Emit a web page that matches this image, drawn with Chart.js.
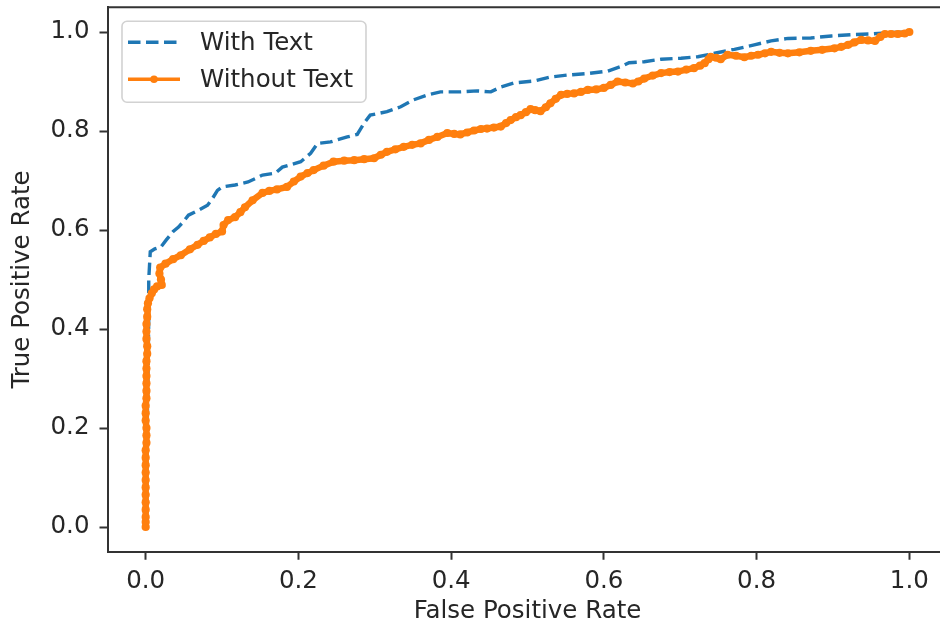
<!DOCTYPE html>
<html>
<head>
<meta charset="utf-8">
<script src="https://cdn.jsdelivr.net/npm/chart.js@4"></script>
<style>
html,body{margin:0;padding:0;background:#fff;overflow:hidden;}
#wrap{width:940px;height:630px;overflow:hidden;position:relative;}
canvas{display:block;}
</style>
</head>
<body>
<div id="wrap"><canvas id="c" width="950" height="630" style="width:950px;height:630px"></canvas></div>
<script>
// ---- Data ----
const seriesNames = ["With Text", "Without Text"];
const xTicks = [0, 0.2, 0.4, 0.6, 0.8, 1.0];
const yTicks = [0, 0.2, 0.4, 0.6, 0.8, 1.0];
const xTitle = "False Positive Rate";
const yTitle = "True Positive Rate";

const withTextFpr = [0,0.002,0.004,0.004,0.006,0.012,0.02,0.027,0.036,0.043,0.05,0.056,0.069,0.081,0.088,0.094,0.1,0.117,0.134,0.153,0.17,0.179,0.19,0.203,0.216,0.225,0.242,0.264,0.277,0.286,0.294,0.316,0.334,0.351,0.369,0.386,0.412,0.434,0.452,0.465,0.482,0.509,0.53,0.552,0.579,0.605,0.622,0.633,0.653,0.675,0.701,0.723,0.745,0.771,0.797,0.819,0.841,0.871,0.898,0.928,0.95,0.976,1];
const withTextTpr = [0,0.2,0.418,0.5,0.556,0.562,0.566,0.58,0.597,0.606,0.618,0.63,0.64,0.65,0.665,0.68,0.687,0.691,0.697,0.711,0.715,0.727,0.732,0.738,0.755,0.775,0.778,0.788,0.793,0.816,0.832,0.839,0.849,0.863,0.873,0.879,0.879,0.881,0.879,0.889,0.897,0.901,0.909,0.913,0.916,0.921,0.93,0.938,0.94,0.945,0.947,0.95,0.957,0.965,0.974,0.982,0.987,0.988,0.992,0.995,0.996,0.999,1];

const withoutTextFpr = [0,0,0,0,0,0,0,0,0,0,0,0,0.001,0.001,0.001,0,0,0,0.001,0.001,0.001,0.001,0.001,0.001,0.002,0.002,0.001,0.001,0.001,0.002,0.002,0.003,0.005,0.008,0.011,0.015,0.021,0.02,0.018,0.019,0.026,0.036,0.046,0.058,0.068,0.076,0.084,0.092,0.1,0.102,0.108,0.117,0.124,0.13,0.14,0.153,0.162,0.172,0.185,0.194,0.203,0.212,0.22,0.233,0.246,0.26,0.273,0.286,0.299,0.308,0.316,0.327,0.338,0.349,0.36,0.371,0.382,0.395,0.404,0.412,0.421,0.43,0.439,0.447,0.456,0.465,0.472,0.478,0.485,0.491,0.498,0.504,0.51,0.517,0.524,0.53,0.537,0.544,0.552,0.561,0.57,0.579,0.59,0.6,0.609,0.618,0.628,0.638,0.645,0.653,0.664,0.675,0.686,0.697,0.708,0.718,0.726,0.732,0.737,0.74,0.747,0.753,0.762,0.773,0.784,0.793,0.802,0.811,0.819,0.83,0.841,0.856,0.871,0.886,0.902,0.911,0.92,0.928,0.937,0.946,0.955,0.962,0.968,0.976,0.985,0.994,1.0];
const withoutTextTpr = [0,0.01,0.02,0.035,0.05,0.065,0.08,0.095,0.11,0.125,0.14,0.155,0.17,0.185,0.2,0.215,0.23,0.245,0.26,0.275,0.29,0.305,0.32,0.335,0.35,0.365,0.38,0.395,0.41,0.425,0.44,0.452,0.462,0.472,0.48,0.486,0.489,0.5,0.512,0.524,0.532,0.541,0.549,0.561,0.57,0.578,0.585,0.592,0.597,0.61,0.62,0.626,0.636,0.646,0.66,0.675,0.679,0.682,0.687,0.698,0.708,0.715,0.721,0.73,0.738,0.74,0.741,0.743,0.745,0.752,0.758,0.763,0.768,0.772,0.775,0.782,0.788,0.796,0.794,0.793,0.797,0.801,0.804,0.805,0.807,0.809,0.816,0.822,0.828,0.832,0.838,0.844,0.842,0.84,0.848,0.856,0.865,0.873,0.875,0.876,0.879,0.883,0.884,0.887,0.893,0.9,0.898,0.896,0.9,0.906,0.912,0.917,0.919,0.92,0.924,0.927,0.932,0.937,0.945,0.95,0.948,0.945,0.954,0.952,0.949,0.952,0.954,0.957,0.96,0.958,0.957,0.959,0.962,0.964,0.967,0.97,0.974,0.979,0.984,0.983,0.982,0.99,0.996,0.996,0.996,0.997,1.0];

const colors = ["#1f77b4", "#ff7f0e"];

// ---- Build ----
const toPts = (xs, ys) => xs.map((x, i) => ({x: x, y: ys[i]}));
const FONT = "'DejaVu Sans', 'Liberation Sans', sans-serif";
const FS = 24.5;
const TXT = "#262626";
const SPINE = "#333333";
const LEGEND_LW = 3.4;

const framePlugin = {
  id: 'frame',
  afterDraw(chart) {
    const {ctx, chartArea: a} = chart;
    ctx.save();
    ctx.strokeStyle = SPINE;
    ctx.lineWidth = 2;
    ctx.beginPath();
    ctx.moveTo(a.left, a.top);
    ctx.lineTo(a.right, a.top);
    ctx.lineTo(a.right, a.bottom);
    ctx.stroke();
    ctx.restore();
  }
};

const legendPlugin = {
  id: 'mplLegend',
  afterDraw(chart) {
    const ctx = chart.ctx;
    const a = chart.chartArea;
    const bx = a.left + 14.5, by = a.top + 14, bw = 244, bh = 81;
    ctx.save();
    ctx.beginPath();
    if (ctx.roundRect) ctx.roundRect(bx, by, bw, bh, 5); else ctx.rect(bx, by, bw, bh);
    ctx.fillStyle = "rgba(255,255,255,0.8)";
    ctx.fill();
    ctx.strokeStyle = "#d2d2d2";
    ctx.lineWidth = 1.6;
    ctx.stroke();
    const rows = [by + 21, by + 58];
    chart.data.datasets.forEach((ds, i) => {
      const y = rows[i];
      ctx.strokeStyle = ds.borderColor;
      ctx.lineWidth = LEGEND_LW;
      ctx.setLineDash(ds.borderDash || []);
      ctx.beginPath();
      ctx.moveTo(bx + 6, y);
      ctx.lineTo(bx + 58, y);
      ctx.stroke();
      ctx.setLineDash([]);
      if (ds.pointRadius > 0) {
        ctx.fillStyle = ds.pointBackgroundColor;
        ctx.beginPath();
        ctx.arc(bx + 32, y, 3.8, 0, Math.PI * 2);
        ctx.fill();
      }
      ctx.fillStyle = TXT;
      ctx.font = FS + "px " + FONT;
      ctx.textBaseline = "middle";
      ctx.textAlign = "left";
      ctx.fillText(ds.label, bx + 78, y + 1);
    });
    ctx.restore();
  }
};

const noPad = (s) => { s.paddingTop = 0; s.paddingBottom = 0; s.paddingLeft = 0; s.paddingRight = 0; };

new Chart(document.getElementById('c'), {
  type: 'line',
  data: {
    datasets: [
      {
        label: seriesNames[0],
        data: toPts(withTextFpr, withTextTpr),
        borderColor: colors[0],
        backgroundColor: colors[0],
        borderWidth: 3.4,
        borderDash: [12.5, 5.5],
        pointRadius: 0,
        tension: 0,
        fill: false,
        order: 2
      },
      {
        label: seriesNames[1],
        data: toPts(withoutTextFpr, withoutTextTpr),
        borderColor: colors[1],
        backgroundColor: colors[1],
        pointBackgroundColor: colors[1],
        pointBorderWidth: 0,
        borderWidth: 6.5,
        pointRadius: 4.1,
        tension: 0,
        fill: false,
        order: 1
      }
    ]
  },
  options: {
    responsive: false,
    animation: false,
    devicePixelRatio: 1,
    layout: { autoPadding: false, padding: { left: 0, top: 7.25, right: 2.5, bottom: 0 } },
    plugins: { legend: { display: false }, tooltip: { enabled: false } },
    scales: {
      x: {
        type: 'linear',
        min: -0.05, max: 1.05,
        afterBuildTicks: (s) => { s.ticks = xTicks.map(v => ({value: v})); },
        afterFit: (s) => { s.height = 78.25; noPad(s); },
        ticks: {
          callback: (v) => Number(v).toFixed(1),
          font: { family: FONT, size: FS }, color: TXT, padding: 7.5, maxRotation: 0, autoSkip: false
        },
        grid: { drawOnChartArea: false, drawTicks: true, tickLength: 8, tickColor: SPINE, tickWidth: 2 },
        border: { display: true, color: SPINE, width: 2 },
        title: { display: true, text: xTitle, font: { family: FONT, size: FS }, color: TXT, padding: { top: 0, bottom: 3.3 } }
      },
      y: {
        type: 'linear',
        min: -0.05, max: 1.05,
        afterBuildTicks: (s) => { s.ticks = yTicks.map(v => ({value: v})); },
        afterFit: (s) => { s.width = 107.5; noPad(s); },
        ticks: {
          callback: (v) => Number(v).toFixed(1),
          font: { family: FONT, size: FS }, color: TXT, padding: 10, autoSkip: false
        },
        grid: { drawOnChartArea: false, drawTicks: true, tickLength: 8, tickColor: SPINE, tickWidth: 2 },
        border: { display: true, color: SPINE, width: 2 },
        title: { display: true, text: yTitle, font: { family: FONT, size: FS }, color: TXT, padding: { top: 7.8, bottom: 0 } }
      }
    }
  },
  plugins: [framePlugin, legendPlugin]
});
</script>
</body>
</html>
